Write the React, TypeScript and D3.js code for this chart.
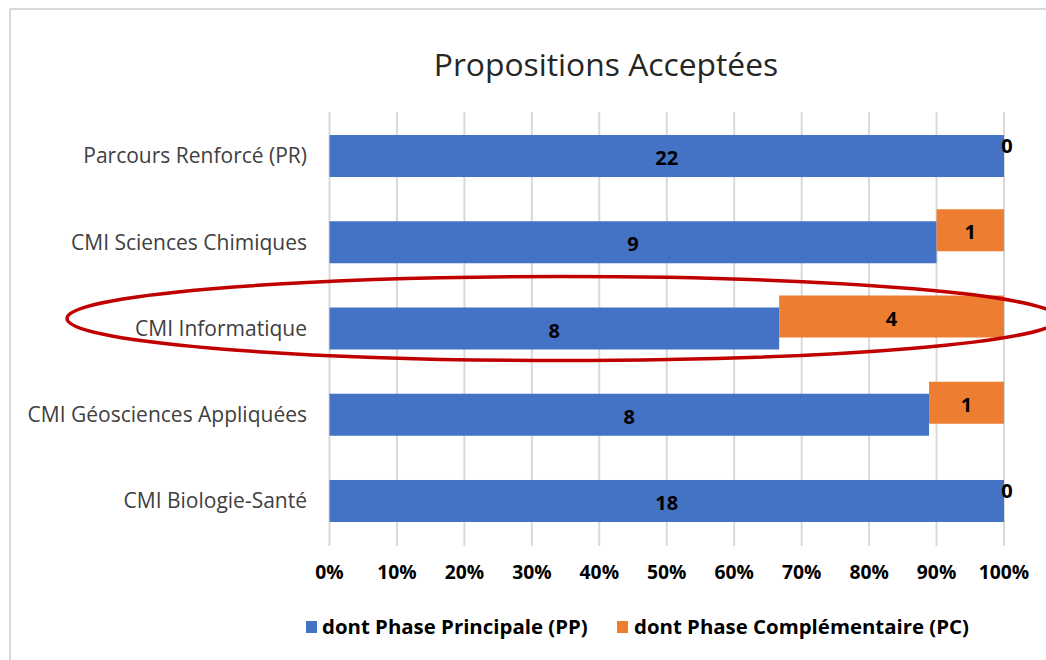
import React from "react";
import * as d3 from "d3";

const categories = [
  "Parcours Renforcé (PR)",
  "CMI Sciences Chimiques",
  "CMI Informatique",
  "CMI Géosciences Appliquées",
  "CMI Biologie-Santé",
];
const ppValues = [22, 9, 8, 8, 18];
const pcValues = [0, 1, 4, 1, 0];
const seriesNames = ["dont Phase Principale (PP)", "dont Phase Complémentaire (PC)"];
const tickValues = [0, 0.1, 0.2, 0.3, 0.4, 0.5, 0.6, 0.7, 0.8, 0.9, 1];
const title = "Propositions Acceptées";
const highlighted = "CMI Informatique";

const W = 1046;
const H = 660;
const BLUE = "#4472C4";
const ORANGE = "#ED7D31";
const FONT = "'Open Sans', 'Noto Sans', sans-serif";

export default function App() {
  const x = d3.scaleLinear().domain([0, 1]).range([329.5, 1004]);
  const y = d3
    .scaleBand<string>()
    .domain(categories)
    .range([112.9, 544.1])
    .paddingInner(0.513)
    .paddingOuter(0.2565);
  const bw = y.bandwidth();
  const pcShift = -12;
  const fmt = d3.format(".0%");

  const rows = categories.map((c, i) => {
    const total = ppValues[i] + pcValues[i];
    const ppShare = ppValues[i] / total;
    return { c, pp: ppValues[i], pc: pcValues[i], ppShare };
  });

  const hy = (y(highlighted) as number) + bw / 2 - 10;

  return (
    <svg
      width={W}
      height={H}
      style={{ position: "absolute", left: 0, top: 0, background: "#fff" }}
      fontFamily={FONT}
    >
      <rect x={0} y={0} width={W} height={H} fill="#fff" />
      {/* chart frame */}
      <line x1={10} y1={9} x2={W} y2={9} stroke="#d9d9d9" strokeWidth={2} />
      <line x1={10} y1={9} x2={10} y2={H} stroke="#d9d9d9" strokeWidth={2} />

      <text x={606} y={76} textAnchor="middle" fontSize={31.8} fill="#262626" fontWeight={400}>
        {title}
      </text>

      {/* gridlines */}
      {tickValues.map((t) => (
        <line
          key={"g" + t}
          x1={x(t)}
          x2={x(t)}
          y1={112}
          y2={546}
          stroke="#d9d9d9"
          strokeWidth={2}
        />
      ))}

      {/* bars */}
      {rows.map((r) => {
        const y0 = y(r.c) as number;
        return (
          <g key={r.c}>
            <rect x={x(0)} y={y0} width={x(r.ppShare) - x(0)} height={bw} fill={BLUE} />
            <rect
              x={x(r.ppShare)}
              y={y0 + pcShift}
              width={x(1) - x(r.ppShare)}
              height={bw}
              fill={ORANGE}
            />
          </g>
        );
      })}

      {/* value labels */}
      {rows.map((r) => {
        const y0 = y(r.c) as number;
        return (
          <g key={"l" + r.c} fontWeight={700} fontSize={20} fill="#000" textAnchor="middle">
            <text x={(x(0) + x(r.ppShare)) / 2} y={y0 + bw / 2 + 2} dy="0.35em">
              {r.pp}
            </text>
            <text
              x={(x(r.ppShare) + x(1)) / 2 + (r.pc === 0 ? 3 : 0)}
              y={y0 + pcShift + bw / 2 + 2}
              dy="0.35em"
            >
              {r.pc}
            </text>
          </g>
        );
      })}

      {/* category labels */}
      {categories.map((c) => (
        <text
          key={"c" + c}
          x={307}
          y={(y(c) as number) + bw / 2}
          dy="0.35em"
          textAnchor="end"
          fontSize={21}
          fill="#404040"
        >
          {c}
        </text>
      ))}

      {/* tick labels */}
      {tickValues.map((t) => (
        <text
          key={"t" + t}
          x={x(t)}
          y={572}
          dy="0.35em"
          textAnchor="middle"
          fontWeight={700}
          fontSize={19.3}
          fill="#000"
        >
          {fmt(t)}
        </text>
      ))}

      {/* legend */}
      <rect x={306} y={621} width={11} height={12} fill={BLUE} />
      <text x={322} y={627} dy="0.35em" fontWeight={700} fontSize={20.4} fill="#000">
        {seriesNames[0]}
      </text>
      <rect x={617} y={621} width={11} height={12} fill={ORANGE} />
      <text x={634} y={627} dy="0.35em" fontWeight={700} fontSize={20.4} fill="#000">
        {seriesNames[1]}
      </text>

      {/* highlight ellipse */}
      <ellipse cx={563} cy={hy} rx={496} ry={42} fill="none" stroke="#C00000" strokeWidth={3.5} />
    </svg>
  );
}
